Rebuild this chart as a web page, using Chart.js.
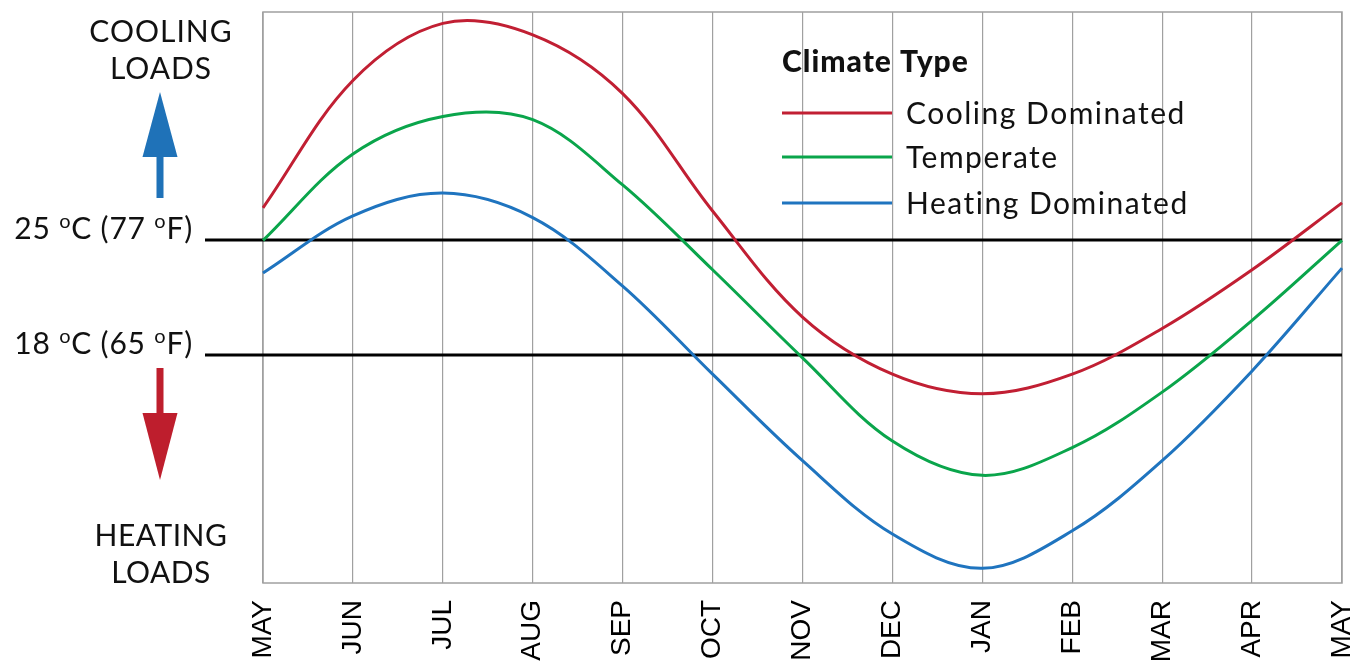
<!DOCTYPE html>
<html>
<head>
<meta charset="utf-8">
<script src="https://cdn.jsdelivr.net/npm/chart.js@4"></script>
<style>
  body { margin: 0; background: #fff; }
  #wrap { width: 1356px; height: 666px; position: relative; }
</style>
</head>
<body>
<div id="wrap"><canvas id="climateChart"></canvas></div>
<script>
// months along the bottom (one full year, May to May)
const months = ["MAY", "JUN", "JUL", "AUG", "SEP", "OCT", "NOV", "DEC", "JAN", "FEB", "MAR", "APR", "MAY"];

// outdoor temperature profile, deg C
const coolingDominated = [27.0, 34.8, 38.3, 37.6, 34.0, 26.8, 20.3, 16.8, 15.6, 16.8, 19.6, 23.2, 27.3];
const temperate = [25.0, 30.3, 32.6, 32.4, 28.4, 23.2, 17.8, 12.7, 10.6, 12.3, 15.7, 20.1, 25.0];
const heatingDominated = [23.0, 26.5, 27.9, 26.4, 22.2, 16.8, 11.5, 7.0, 4.9, 7.2, 11.5, 17.0, 23.3];

// balance point lines
const refTemps = [25, 18];
const refLabels = [["25 ", "o", "C (77 ", "o", "F)"], ["18 ", "o", "C (65 ", "o", "F)"]];

const seriesNames = ["Cooling Dominated", "Temperate", "Heating Dominated"];
const seriesColors = ["#c11f33", "#0aa54b", "#1f74bf"];

const textFont = "Lato, 'Open Sans', sans-serif";

// draw a label made of normal text and small raised "o" parts, right aligned
function drawDegreeLabel(ctx, parts, right, baseline) {
    const big = "30px " + textFont;
    const small = "20px " + textFont;
    ctx.letterSpacing = "0.8px";
    let widths = parts.map((p, i) => {
        ctx.font = i % 2 === 1 ? small : big;
        return ctx.measureText(p).width;
    });
    let x = right - widths.reduce((a, b) => a + b, 0);
    parts.forEach((p, i) => {
        ctx.font = i % 2 === 1 ? small : big;
        ctx.fillText(p, x, i % 2 === 1 ? baseline - 11 : baseline);
        x += widths[i];
    });
    ctx.letterSpacing = "0px";
}

function drawArrow(ctx, cx, yTip, yBase, yTail, color) {
    ctx.save();
    ctx.fillStyle = color;
    const dir = yBase > yTip ? 1 : -1;
    ctx.beginPath();
    ctx.moveTo(cx, yTip);
    ctx.lineTo(cx + 17.5, yBase);
    ctx.lineTo(cx - 17.5, yBase);
    ctx.closePath();
    ctx.fill();
    ctx.fillRect(cx - 3.5, Math.min(yBase, yTail) - (dir > 0 ? 1 : 0), 7, Math.abs(yTail - yBase) + 1);
    ctx.restore();
}

const annotations = {
    id: "annotations",
    beforeDatasetsDraw(chart) {
        const { ctx, chartArea, scales } = chart;
        ctx.save();
        // plot frame
        ctx.strokeStyle = "#a0a0a0";
        ctx.lineWidth = 1.5;
        ctx.strokeRect(chartArea.left, chartArea.top, chartArea.right - chartArea.left, chartArea.bottom - chartArea.top);
        // reference temperature lines
        ctx.strokeStyle = "#000";
        ctx.lineWidth = 3;
        refTemps.forEach((t) => {
            const y = Math.round(scales.y.getPixelForValue(t));
            ctx.beginPath();
            ctx.moveTo(205, y);
            ctx.lineTo(chartArea.right, y);
            ctx.stroke();
        });
        ctx.restore();
    },
    afterDraw(chart) {
        const { ctx, scales } = chart;
        ctx.save();
        ctx.fillStyle = "#111";
        ctx.textAlign = "left";
        ctx.textBaseline = "alphabetic";
        refTemps.forEach((t, i) => {
            const y = Math.round(scales.y.getPixelForValue(t));
            drawDegreeLabel(ctx, refLabels[i], 193, y - 1);
        });

        // side captions
        ctx.textAlign = "center";
        ctx.font = "30px " + textFont;
        ctx.letterSpacing = "1px";
        ctx.fillText("COOLING", 161, 42);
        ctx.fillText("LOADS", 161, 79);
        ctx.letterSpacing = "0.5px";
        ctx.fillText("HEATING", 161, 546);
        ctx.fillText("LOADS", 161, 583);
        ctx.letterSpacing = "0px";

        drawArrow(ctx, 160, 92, 157, 198, "#1f72b8");
        drawArrow(ctx, 160, 480, 413, 368, "#be1e2d");

        // legend
        ctx.textAlign = "left";
        ctx.font = "900 30px " + textFont;
        ctx.letterSpacing = "1px";
        ctx.fillText("Climate Type", 782, 72);
        const lineYs = [113, 157, 203];
        ctx.font = "30px " + textFont;
        ctx.letterSpacing = "1.5px";
        chart.data.datasets.forEach((ds, i) => {
            ctx.strokeStyle = ds.borderColor;
            ctx.lineWidth = 3;
            ctx.beginPath();
            ctx.moveTo(782, lineYs[i]);
            ctx.lineTo(892, lineYs[i]);
            ctx.stroke();
            ctx.fillText(ds.label, 906, lineYs[i] + 11);
        });
        ctx.restore();
    },
};

const allSeries = [coolingDominated, temperate, heatingDominated];

new Chart(document.getElementById("climateChart"), {
    type: "line",
    data: {
        labels: months,
        datasets: allSeries.map((values, i) => ({
            label: seriesNames[i],
            data: values,
            borderColor: seriesColors[i],
            borderWidth: 3,
            pointRadius: 0,
            tension: 0.35,
            fill: false,
        })),
    },
    options: {
        responsive: true,
        maintainAspectRatio: false,
        animation: false,
        layout: {
            padding: { left: 263, right: 14, top: 12, bottom: 0 },
        },
        plugins: {
            legend: { display: false },
            tooltip: { enabled: false },
        },
        scales: {
            x: {
                grid: {
                    color: "#a0a0a0",
                    lineWidth: 1.2,
                    drawTicks: false,
                },
                border: { display: false },
                ticks: {
                    minRotation: 90,
                    maxRotation: 90,
                    autoSkip: false,
                    padding: 17,
                    color: "#000",
                    font: { family: "'Liberation Sans', Arial, sans-serif", size: 28 },
                },
                afterFit(scale) {
                    scale.height = 83;
                    scale.paddingLeft = 0;
                    scale.paddingRight = 0;
                },
            },
            y: {
                display: false,
                min: 4,
                max: 39,
            },
        },
    },
    plugins: [annotations],
});
</script>
</body>
</html>
